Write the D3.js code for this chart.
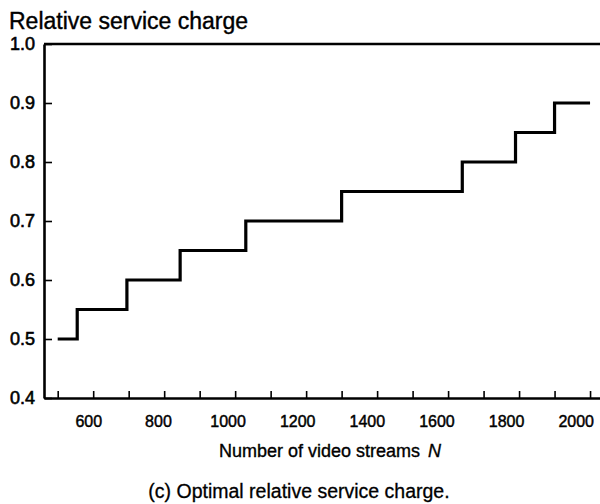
<!DOCTYPE html>
<html>
<head>
<meta charset="utf-8">
<script src="https://cdn.jsdelivr.net/npm/d3@7/dist/d3.min.js"></script>
<style>
  html, body { margin: 0; padding: 0; background: #fff; }
  svg { display: block; font-family: "Liberation Sans", Arial, Helvetica, sans-serif; }
</style>
</head>
<body>
<div id="chart"></div>
<script>
// Step function: optimal relative service charge vs. number of video streams N.
// Each step holds its charge from its start N until the next step begins.
const stepStarts = [500, 555, 695, 845, 1030, 1300, 1640, 1790, 1900];
const stepCharges = [0.50, 0.55, 0.60, 0.65, 0.70, 0.75, 0.80, 0.85, 0.90];
const lastN = 2000;

const xTickValues = d3.range(500, 2001, 100);
const xLabelValues = [600, 800, 1000, 1200, 1400, 1600, 1800, 2000];
const yTickValues = [0.4, 0.5, 0.6, 0.7, 0.8, 0.9, 1.0];

const W = 600, H = 504;
const svg = d3.select("#chart").append("svg")
  .attr("width", W).attr("height", H);
svg.append("rect").attr("width", W).attr("height", H).attr("fill", "#fff");

const x = d3.scaleLinear().domain([461.4, 2060]).range([44, 44 + (2060 - 461.4) * 0.3549]);
const y = d3.scaleLinear().domain([0.4, 1.0]).range([398, 44]);
// tick labels sit on a slightly tighter spacing than the ticks themselves
const xLabelPos = d3.scaleLinear().domain([600, 2000]).range([88.3, 575.7]);

// step path points
const pts = [];
stepStarts.forEach((n, i) => {
  const end = i < stepStarts.length - 1 ? stepStarts[i + 1] : lastN;
  pts.push([n, stepCharges[i]]);
  pts.push([end, stepCharges[i]]);
});

// top border
svg.append("line")
  .attr("x1", x(x.domain()[0])).attr("x2", x(x.domain()[1]))
  .attr("y1", y(1.0)).attr("y2", y(1.0))
  .attr("stroke", "#000").attr("stroke-width", 2.6);

// x axis (inward ticks)
const xAxis = svg.append("g")
  .attr("transform", `translate(0,${y(0.4)})`)
  .call(d3.axisBottom(x)
    .tickValues(xTickValues)
    .tickSize(-7)
    .tickSizeOuter(0)
    .tickPadding(18)
    .tickFormat(d => xLabelValues.includes(d) ? String(d) : ""));
xAxis.select(".domain").attr("stroke-width", 2.6);
xAxis.selectAll(".tick line").attr("stroke-width", 1.6);
xAxis.selectAll(".tick text")
  .attr("x", d => xLabelValues.includes(d) ? xLabelPos(d) - x(d) : 0)
  .attr("font-size", 16)
  .attr("fill", "#000")
  .attr("stroke", "#000").attr("stroke-width", 0.45)
  .attr("font-family", "Liberation Sans, Arial, sans-serif");

// y axis (inward ticks)
const yAxis = svg.append("g")
  .attr("transform", `translate(${x(x.domain()[0])},0)`)
  .call(d3.axisLeft(y)
    .tickValues(yTickValues)
    .tickSize(-8)
    .tickSizeOuter(0)
    .tickPadding(9)
    .tickFormat(d3.format(".1f")));
yAxis.select(".domain").attr("stroke-width", 2.6);
yAxis.selectAll(".tick line").attr("stroke-width", 1.6);
yAxis.selectAll(".tick text")
  .attr("font-size", 18)
  .attr("fill", "#000")
  .attr("stroke", "#000").attr("stroke-width", 0.6)
  .attr("font-family", "Liberation Sans, Arial, sans-serif");

// step line
svg.append("path")
  .datum(pts)
  .attr("fill", "none")
  .attr("stroke", "#000")
  .attr("stroke-width", 3.2)
  .attr("stroke-linejoin", "miter")
  .attr("d", d3.line().x(d => x(d[0])).y(d => y(d[1])));

// axis title (top-left)
svg.append("text")
  .attr("x", 9).attr("y", 29)
  .attr("font-size", 23)
  .attr("fill", "#000")
  .attr("stroke", "#000").attr("stroke-width", 0.4)
  .text("Relative service charge");

// x axis label
svg.append("text")
  .attr("x", 420).attr("y", 457)
  .attr("text-anchor", "end")
  .attr("font-size", 18)
  .attr("fill", "#000")
  .attr("stroke", "#000").attr("stroke-width", 0.35)
  .text("Number of video streams");
svg.append("text")
  .attr("x", 428).attr("y", 457)
  .attr("font-size", 18)
  .attr("font-style", "italic")
  .attr("fill", "#000")
  .attr("stroke", "#000").attr("stroke-width", 0.35)
  .text("N");

// caption
svg.append("text")
  .attr("x", 299).attr("y", 498)
  .attr("text-anchor", "middle")
  .attr("font-size", 19.5)
  .attr("fill", "#000")
  .attr("stroke", "#000").attr("stroke-width", 0.3)
  .text("(c) Optimal relative service charge.");
</script>
</body>
</html>
